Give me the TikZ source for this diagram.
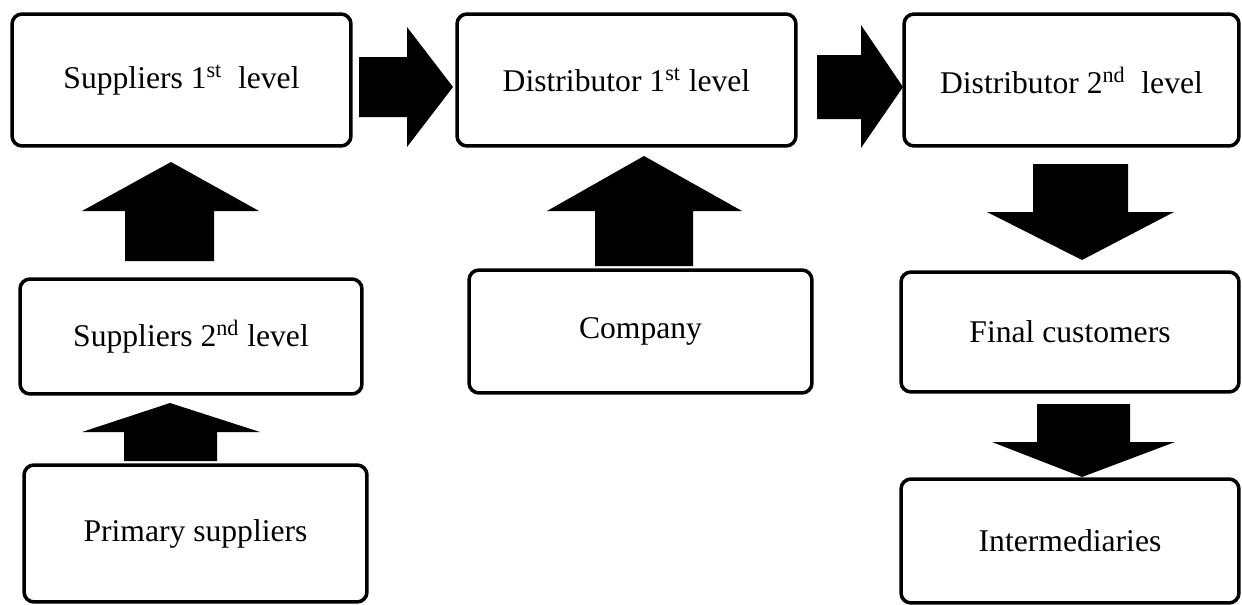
\documentclass[tikz,border=0pt]{standalone}
\usepackage{fontspec}
\setmainfont{Liberation Serif}
\usetikzlibrary{positioning}

\tikzset{
  level/.style={draw, line width=2pt, rounded corners=0.2cm, inner sep=0pt,
    align=center, font=\fontsize{18}{22}\selectfont},
  blockarrow/.style={fill=black}
}

\begin{document}
\begin{tikzpicture}[x=0.02cm, y=-0.02cm]
  \useasboundingbox (0,0) rectangle (1242,605);

  % Top row
  \node[level, minimum width=6.78cm, minimum height=2.64cm] (sup1) at (181.5,80)
    {Suppliers 1\textsuperscript{st}~ level};
  \node[level, minimum width=6.78cm, minimum height=2.64cm] (dist1) at (626.5,80)
    {Distributor 1\textsuperscript{st} level};
  \node[level, minimum width=6.70cm, minimum height=2.64cm] (dist2) at (1071.5,80)
    {Distributor 2\textsuperscript{nd}~ level};

  % Middle row
  \node[level, minimum width=6.84cm, minimum height=2.30cm] (sup2) at (191,336.5)
    {Suppliers 2\textsuperscript{nd} level};
  \node[level, minimum width=6.86cm, minimum height=2.46cm] (company) at (640.5,331.5)
    {Company};
  \node[level, minimum width=6.76cm, minimum height=2.40cm] (final) at (1070,332)
    {Final customers};

  % Bottom row
  \node[level, minimum width=6.86cm, minimum height=2.74cm] (primary) at (195.5,533.5)
    {Primary suppliers};
  \node[level, minimum width=6.76cm, minimum height=2.48cm] (inter) at (1070,541)
    {Intermediaries};

  % Right arrows
  \fill[blockarrow] (359,57) -- (407,57) -- (407,27) -- (453,87) -- (407,147)
    -- (407,117) -- (359,117) -- cycle;
  \fill[blockarrow] (817,55) -- (861,55) -- (861,25) -- (903,87) -- (861,148)
    -- (861,119) -- (817,119) -- cycle;

  % Up arrows
  \fill[blockarrow] (125,261) -- (125,211) -- (82,211) -- (171,162) -- (259,211)
    -- (214,211) -- (214,261) -- cycle;
  \fill[blockarrow] (595,266) -- (595,211) -- (547,211) -- (644,156) -- (742,211)
    -- (693,211) -- (693,266) -- cycle;
  \fill[blockarrow] (124,461) -- (124,432) -- (82,432) -- (170,403) -- (260,432)
    -- (217,432) -- (217,461) -- cycle;

  % Down arrows
  \fill[blockarrow] (1033,164) -- (1033,212) -- (987,212) -- (1082,260) -- (1174,212)
    -- (1128,212) -- (1128,164) -- cycle;
  \fill[blockarrow] (1037,404) -- (1037,442) -- (992,442) -- (1082,477) -- (1175,442)
    -- (1130,442) -- (1130,404) -- cycle;
\end{tikzpicture}
\end{document}
